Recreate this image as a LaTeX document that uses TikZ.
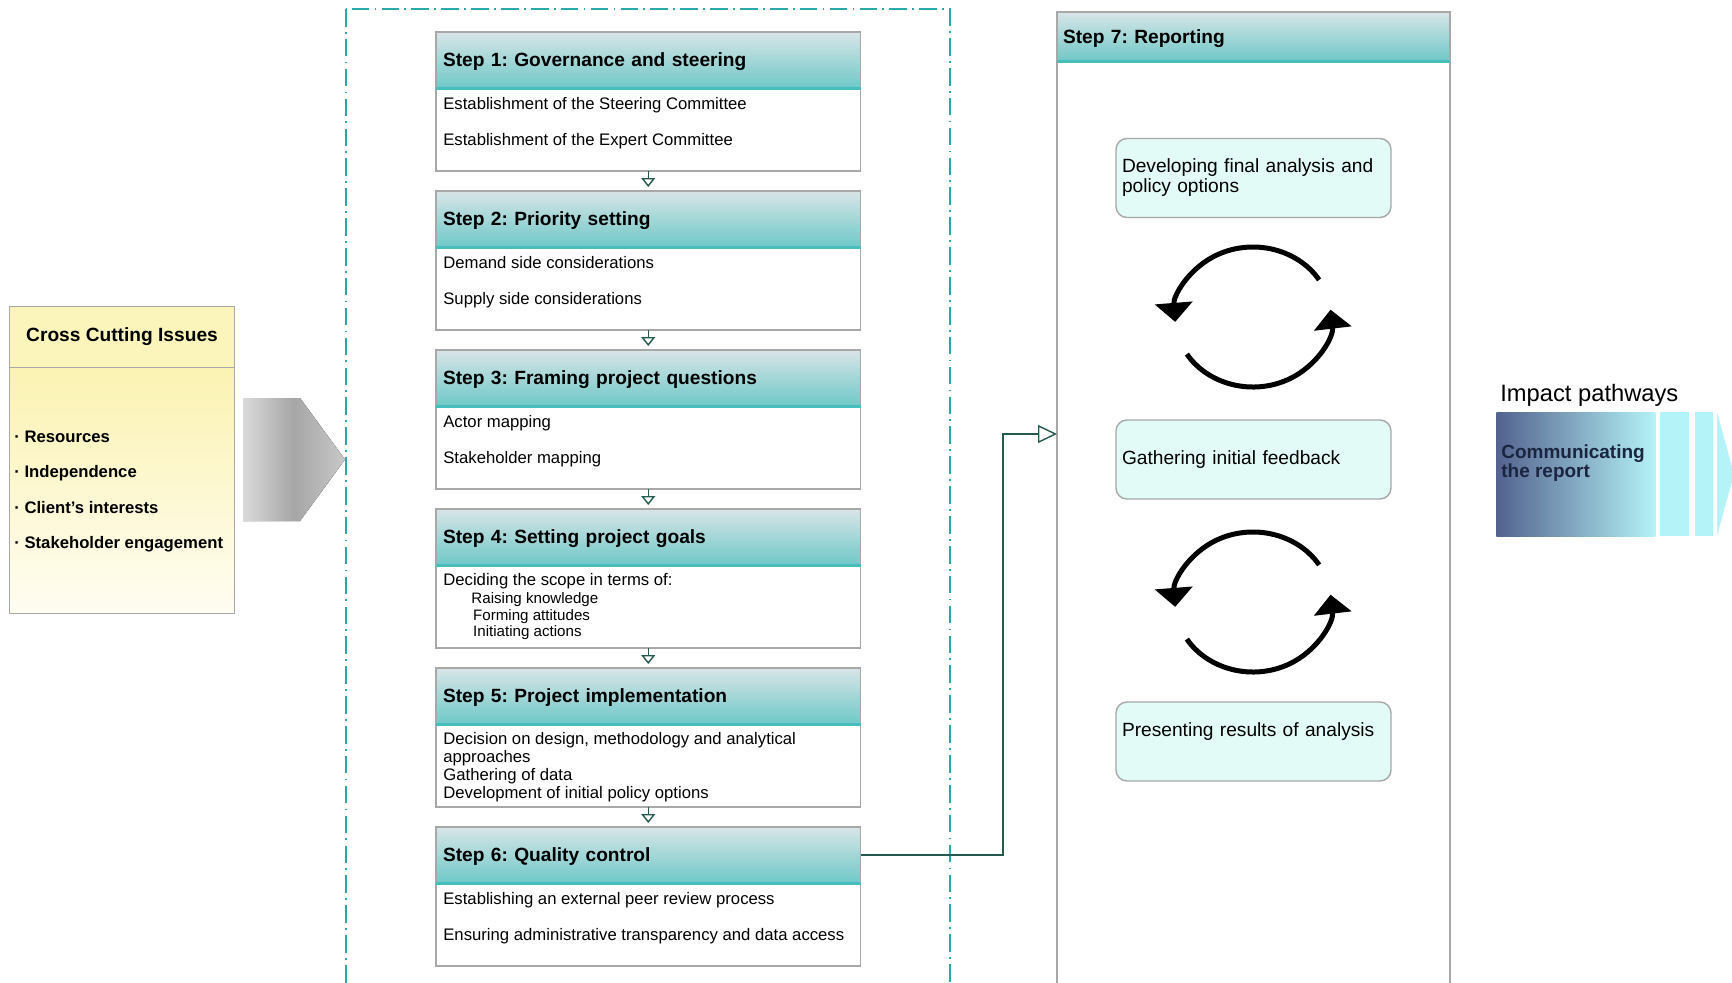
\documentclass[tikz,border=0pt]{standalone}
\usepackage{fontspec}
\setmainfont{Liberation Sans}
\usetikzlibrary{arrows.meta, positioning}

\definecolor{headtop}{HTML}{D8E5E7}
\definecolor{headbot}{HTML}{6FC8C8}
\definecolor{headline}{HTML}{48BDBD}
\definecolor{framegray}{HTML}{A8A8A8}
\definecolor{dashteal}{HTML}{2BA8A8}
\definecolor{flowteal}{HTML}{245A50}
\definecolor{mint}{HTML}{E2FBF6}
\definecolor{cchead}{HTML}{FBF5BC}
\definecolor{cctop}{HTML}{FAF0A2}
\definecolor{ccbot}{HTML}{FFFDF2}
\definecolor{impdark}{HTML}{53628E}
\definecolor{implight}{HTML}{B4F3F7}
\definecolor{impnavy}{HTML}{1B2540}
\definecolor{grayleft}{HTML}{DADADA}
\definecolor{graymid}{HTML}{A6A6A6}
\definecolor{grayright}{HTML}{C8C8C8}

\newcommand{\stepsub}{\fontsize{8.6}{9.5}\selectfont}

\tikzset{
  stepbox/.style={draw=framegray, line width=0.8pt, fill=white, anchor=north west,
    minimum width=8.49cm, minimum height=2.78cm, inner sep=0pt, outer sep=0pt},
  stephead/.style={draw=framegray, line width=0.8pt, top color=headtop, bottom color=headbot,
    anchor=north west, minimum width=8.49cm, minimum height=1.12cm, text width=8.21cm, text depth=0pt,
    inner xsep=0.14cm, inner ysep=0pt, outer sep=0pt, align=left, font=\fontsize{10.9}{12}\selectfont\bfseries},
  steptext/.style={anchor=north west, inner sep=0pt, align=left, font=\fontsize{9.5}{10.1}\selectfont},
  headrule/.style={headline, line width=0.06cm},
  steparrow/.style={flowteal, line width=0.8pt, shorten >=0.08cm, -{Triangle[open, width=0.28cm, length=0.18cm]}},
  flowarrow/.style={flowteal, line width=0.8pt, -{Triangle[open, width=0.36cm, length=0.38cm]}},
  dashframe/.style={dashteal, line width=1pt, dash pattern=on 10pt off 3pt on 1pt off 3pt},
  roundbox/.style={draw=framegray, line width=0.8pt, fill=mint, rounded corners=0.22cm,
    minimum width=5.5cm, minimum height=1.58cm, text width=5.26cm, inner xsep=0.12cm,
    inner ysep=0pt, align=left, font=\fontsize{10.9}{11.4}\selectfont},
  cyclearrow/.style={line width=0.1cm, -{Triangle[width=0.74cm, length=0.38cm]}},
  crossbox/.style={draw=framegray, line width=0.6pt, top color=cctop, bottom color=ccbot,
    anchor=north west, minimum width=4.5cm, minimum height=6.14cm, inner sep=0pt},
  crosshead/.style={draw=framegray, line width=0.6pt, fill=cchead, anchor=north west,
    minimum width=4.5cm, minimum height=1.22cm, inner sep=0pt, font=\fontsize{10.9}{12}\selectfont\bfseries}
}

\begin{document}
\frenchspacing
\begin{tikzpicture}[x=0.2mm, y=-0.2mm]
    \useasboundingbox (0,0) rectangle (1732,982) ;

    % frame round steps 1 to 6
    \draw[dashframe] (346,9) rectangle (950,1000) ;

    % cross cutting issues
    \node[crossbox] (cross) at (9,306) {} ;
    \node[crosshead] (crosshead) at (cross.north west) {Cross Cutting Issues} ;
    \node[anchor=north west, inner sep=0pt, align=left, font=\fontsize{9.5}{20}\selectfont\bfseries] (crossitems) at (14,431)
        {· Resources\\· Independence\\· Client's interests\\· Stakeholder engagement} ;
    \fill[left color=grayleft, right color=grayright, middle color=graymid]
        (243,398) -- (300,398) -- (345,459.5) -- (300,521) -- (243,521) -- cycle ;

    % steps 1 to 6
    \node[stepbox] (s1) at (436,32) {} ;
    \node[stephead] (h1) at (s1.north west) {Step 1: Governance and steering} ;
    \node[steptext] (t1) at ([shift={(0.14cm,-0.19cm)}]h1.south west)
        {Establishment of the Steering Committee\\[10pt]Establishment of the Expert Committee} ;

    \node[stepbox, below=0.4cm of s1] (s2) {} ;
    \node[stephead] (h2) at (s2.north west) {Step 2: Priority setting} ;
    \node[steptext] (t2) at ([shift={(0.14cm,-0.19cm)}]h2.south west)
        {Demand side considerations\\[10pt]Supply side considerations} ;

    \node[stepbox, below=0.4cm of s2] (s3) {} ;
    \node[stephead] (h3) at (s3.north west) {Step 3: Framing project questions} ;
    \node[steptext] (t3) at ([shift={(0.14cm,-0.19cm)}]h3.south west)
        {Actor mapping\\[10pt]Stakeholder mapping} ;

    \node[stepbox, below=0.4cm of s3] (s4) {} ;
    \node[stephead] (h4) at (s4.north west) {Step 4: Setting project goals} ;
    \node[steptext] (t4) at ([shift={(0.14cm,-0.17cm)}]h4.south west)
        {Deciding the scope in terms of:\\\hspace*{16pt}\stepsub Raising knowledge\\[-0.7pt]%
         \hspace*{17pt}\stepsub Forming attitudes\\[-0.7pt]\hspace*{17pt}\stepsub Initiating actions} ;

    \node[stepbox, below=0.4cm of s4] (s5) {} ;
    \node[stephead] (h5) at (s5.north west) {Step 5: Project implementation} ;
    \node[steptext] (t5) at ([shift={(0.14cm,-0.17cm)}]h5.south west)
        {Decision on design, methodology and analytical\\approaches\\Gathering of data\\Development of initial policy options} ;

    \node[stepbox, below=0.4cm of s5] (s6) {} ;
    \node[stephead] (h6) at (s6.north west) {Step 6: Quality control} ;
    \node[steptext] (t6) at ([shift={(0.14cm,-0.19cm)}]h6.south west)
        {Establishing an external peer review process\\[10pt]Ensuring administrative transparency and data access} ;

    \draw[headrule] (h1.south west) -- (h1.south east) ;
    \draw[headrule] (h2.south west) -- (h2.south east) ;
    \draw[headrule] (h3.south west) -- (h3.south east) ;
    \draw[headrule] (h4.south west) -- (h4.south east) ;
    \draw[headrule] (h5.south west) -- (h5.south east) ;
    \draw[headrule] (h6.south west) -- (h6.south east) ;

    \draw[steparrow] (s1.south) -- (s2.north) ;
    \draw[steparrow] (s2.south) -- (s3.north) ;
    \draw[steparrow] (s3.south) -- (s4.north) ;
    \draw[steparrow] (s4.south) -- (s5.north) ;
    \draw[steparrow] (s5.south) -- (s6.north) ;

    % step 7
    \node[stepbox, minimum width=7.86cm, minimum height=19.56cm] (r7) at (1057,12) {} ;
    \node[stephead, minimum width=7.86cm, minimum height=0.98cm, text width=7.62cm, inner xsep=0.12cm] (h7)
        at (r7.north west) {Step 7: Reporting} ;
    \draw[headrule] (h7.south west) -- (h7.south east) ;

    \node[roundbox] (develop) at (1253.5,178) {Developing final analysis and policy options} ;
    \node[roundbox] (gather) at (1253.5,459.5) {Gathering initial feedback} ;
    \node[roundbox, text depth=13.2pt] (present) at (1253.5,741.5) {Presenting results of analysis} ;

    \coordinate (cyc1) at (1253,317) ;
    \coordinate (cyc2) at (1253,602) ;
    \draw[cyclearrow] ([shift={(32:1.56cm and 1.4cm)}]cyc1) arc[start angle=32, end angle=184, x radius=1.56cm, y radius=1.4cm] ;
    \draw[cyclearrow] ([shift={(212:1.56cm and 1.4cm)}]cyc1) arc[start angle=212, end angle=366, x radius=1.56cm, y radius=1.4cm] ;
    \draw[cyclearrow] ([shift={(32:1.56cm and 1.4cm)}]cyc2) arc[start angle=32, end angle=184, x radius=1.56cm, y radius=1.4cm] ;
    \draw[cyclearrow] ([shift={(212:1.56cm and 1.4cm)}]cyc2) arc[start angle=212, end angle=366, x radius=1.56cm, y radius=1.4cm] ;

    % quality control feeds reporting
    \coordinate (bend) at (1003,434) ;
    \draw[flowarrow] (h6.east) -| (bend) -- (bend -| r7.west) ;

    % impact pathways
    \node[anchor=west, inner sep=0pt, font=\fontsize{13.5}{15}\selectfont] (imptitle) at (1500,395) {Impact pathways} ;
    \node[anchor=north west, inner sep=0pt, minimum width=3.18cm, minimum height=2.48cm,
        left color=impdark, right color=implight] (comm) at (1496,412) {} ;
    \node[anchor=north west, inner sep=0pt, align=left, text=impnavy, font=\fontsize{10.8}{11}\selectfont\bfseries] (commtext)
        at ([shift={(0.1cm,-0.64cm)}]comm.north west) {Communicating\\the report} ;
    \fill[implight] (1660,412) rectangle (1689,536) ;
    \fill[implight] (1695,412) rectangle (1713,536) ;
    \fill[implight] (1717,412) -- (1734,474) -- (1717,536) -- cycle ;

\end{tikzpicture}
\end{document}
